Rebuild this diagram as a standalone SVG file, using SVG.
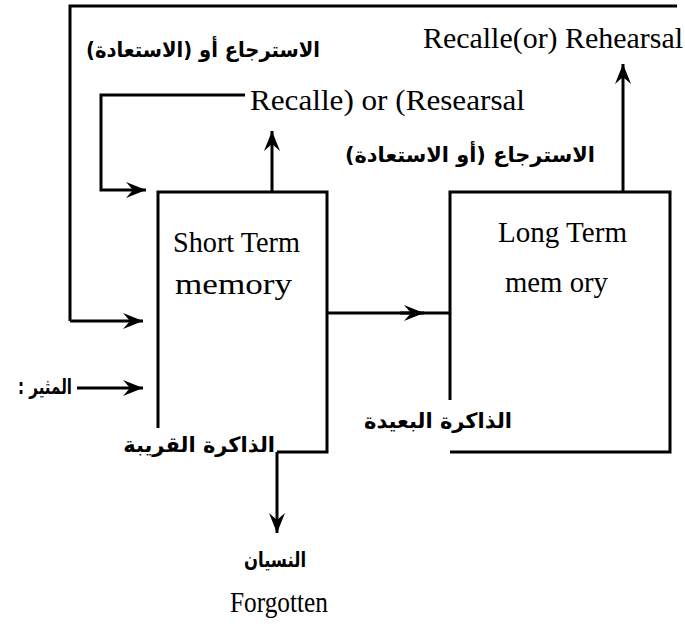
<svg xmlns="http://www.w3.org/2000/svg" width="685" height="627" viewBox="0 0 685 627">
<style>
.ln{fill:none;stroke:#000;stroke-width:3}
.en{font-family:"Liberation Serif","Times New Roman",serif;font-size:29px;fill:#000}
.ar{font-family:"DejaVu Sans",sans-serif;font-weight:bold;font-size:21px;fill:#000;direction:rtl;unicode-bidi:embed;text-anchor:start}
</style>
<defs>
<marker id="ah" viewBox="-20 -9 21 18" refX="0" refY="0" markerWidth="21" markerHeight="18" markerUnits="userSpaceOnUse" orient="auto">
<path d="M0,0 L-20,-8 L-13,0 L-20,8 z" fill="#000"/>
</marker>
</defs>
<rect width="685" height="627" fill="#fff"/>
<g id="short-term">
<path class="ln" d="M158,428 V192 H327 V452 H277"/>
<text class="en" x="173" y="252" textLength="127" lengthAdjust="spacingAndGlyphs">Short Term</text>
<text class="en" x="175" y="294" textLength="117" lengthAdjust="spacingAndGlyphs">memory</text>
</g>
<g id="long-term">
<path class="ln" d="M450,400 V192 H670 V452 H450"/>
<text class="en" x="498" y="242" textLength="129" lengthAdjust="spacingAndGlyphs">Long Term</text>
<text class="en" x="505" y="292" textLength="103" lengthAdjust="spacingAndGlyphs">mem ory</text>
</g>
<g id="connectors">
<path class="ln" d="M70,321 V6 H677"/>
<path class="ln" d="M70,321 H143" marker-end="url(#ah)"/>
<path class="ln" d="M245,95 H101 V190 H146" marker-end="url(#ah)"/>
<path class="ln" d="M272,192 V131" marker-end="url(#ah)"/>
<path class="ln" d="M623,192 V64" marker-end="url(#ah)"/>
<path class="ln" d="M327,313 H450"/>
<path class="ln" d="M400,313 H424" marker-end="url(#ah)"/>
<path class="ln" d="M77,388 H143" marker-end="url(#ah)"/>
<path class="ln" d="M277,452 V533" marker-end="url(#ah)"/>
</g>
<g id="labels">
<text class="ar" x="320" y="57" textLength="234" lengthAdjust="spacingAndGlyphs">الاسترجاع أو (الاستعادة)</text>
<text class="en" x="423" y="48" textLength="260" lengthAdjust="spacingAndGlyphs">Recalle(or) Rehearsal</text>
<text class="en" x="250" y="110" textLength="275" lengthAdjust="spacingAndGlyphs">Recalle) or (Researsal</text>
<text class="ar" x="595" y="162" textLength="250" lengthAdjust="spacingAndGlyphs">الاسترجاع (أو الاستعادة)</text>
<text class="ar" x="72" y="394" textLength="54" lengthAdjust="spacingAndGlyphs">المثير :</text>
<text class="ar" x="512" y="428">الذاكرة البعيدة</text>
<text class="ar" x="275" y="452">الذاكرة القريبة</text>
<text class="ar" x="306" y="567" textLength="62" lengthAdjust="spacingAndGlyphs">النسيان</text>
<text class="en" x="230" y="612" textLength="98" lengthAdjust="spacingAndGlyphs">Forgotten</text>
</g>
</svg>
